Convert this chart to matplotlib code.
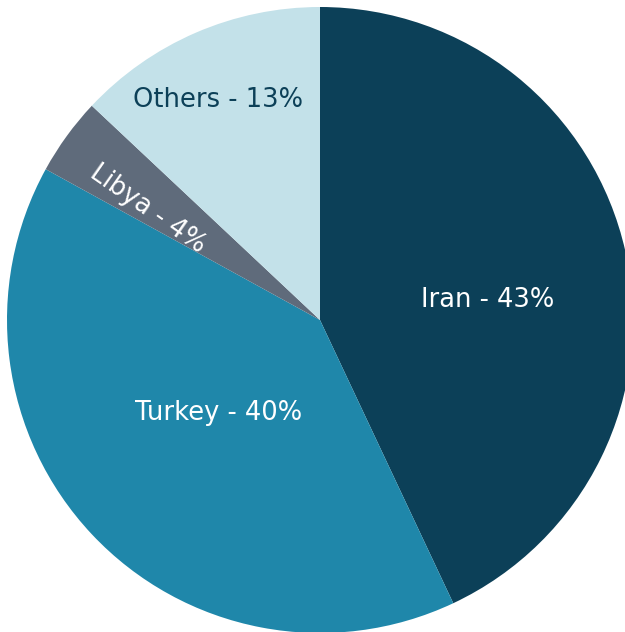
import matplotlib
matplotlib.use("Agg")
import matplotlib.pyplot as plt

# data
countries = ["Iran", "Turkey", "Libya", "Others"]
shares = [43, 40, 4, 13]
colors = ["#0c4058", "#1f87aa", "#5f6b7b", "#c3e1e9"]
text_colors = ["white", "white", "white", "#0c4058"]

plt.rcParams['font.family'] = ['DejaVu Sans']

fig = plt.figure(figsize=(6.25, 6.32), dpi=100)
# pie centre at (320, 320) px, radius ~313 px
ax = fig.add_axes([7 / 625, -1 / 632, 626 / 625, 626 / 632])
wedges, _ = ax.pie(shares, colors=colors, startangle=90, counterclock=False,
                   wedgeprops=dict(linewidth=0))
ax.set_xlim(-1, 1)
ax.set_ylim(-1, 1)
ax.axis("off")

# label placement (picked by eye)
label_pos = [(0.535, 0.065), (-0.325, -0.297), (-0.55, 0.355), (-0.326, 0.703)]
rotations = [0, 0, -35, 0]
for name, val, pos, rot, tc in zip(countries, shares, label_pos, rotations, text_colors):
    ax.text(pos[0], pos[1], f"{name} - {val}%", color=tc, fontsize=18.5,
            ha="center", va="center", rotation=rot, rotation_mode="anchor")

fig.savefig("out.png", dpi=100)
